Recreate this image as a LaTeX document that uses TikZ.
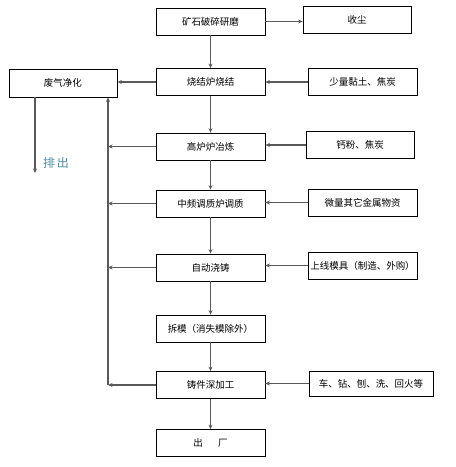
\documentclass[tikz,border=0pt]{standalone}
\usepackage{fontspec}
\newfontfamily\cjk{Noto Sans CJK SC}
\usetikzlibrary{arrows.meta,calc}
\definecolor{linegray}{HTML}{5A5A5A}
\definecolor{tealtext}{HTML}{4A8FA8}
\tikzset{
  box/.style={draw=black, line width=0.8pt, fill=white, minimum width=109pt, minimum height=27pt, inner sep=0pt, font=\cjk\fontsize{9.5}{11}\selectfont},
  conn/.style={draw=linegray, line width=1.1pt, -{Stealth[length=4.5pt,width=4pt]}},
}
\begin{document}
\begin{tikzpicture}[x=1pt,y=-1pt]
\useasboundingbox[fill=white] (0,0) rectangle (456,467);
% main column
\node[box] (b1) at (210.5,21.5) {矿石破碎研磨};
\node[box] (b2) at (210.5,82) {烧结炉烧结};
\node[box] (b3) at (210.5,146.5) {高炉炉冶炼};
\node[box] (b4) at (210.5,203.5) {中频调质炉调质};
\node[box] (b5) at (210.5,267.5) {自动浇铸};
\node[box] (b6) at (210.5,328.5) {拆模（消失模除外）};
\node[box] (b7) at (210.5,385) {铸件深加工};
\node[box] (b8) at (210.5,443) {出\hspace{1.6em}厂};
% right column
\node[box, minimum width=108pt] (r1) at (357,20) {收尘};
\node[box] (r2) at (362.5,82) {少量黏土、焦炭};
\node[box, minimum width=108pt] (r3) at (360,145) {钙粉、焦炭};
\node[box] (r4) at (362.5,202.5) {微量其它金属物资};
\node[box] (r5) at (362.5,265.5) {上线模具（制造、外购）};
\node[box, minimum width=124pt, minimum height=25pt] (r7) at (371,383.5) {车、钻、刨、洗、回火等};
% left
\node[box, minimum width=108pt, minimum height=28pt] (w) at (63,83) {废气净化};
\node[font=\cjk\fontsize{12}{14}\selectfont, text=tealtext] (out) at (56,163) {排\,出};
\coordinate (wout) at (35,173);
% vertical flow
\foreach \a/\b in {b1/b2,b2/b3,b3/b4,b4/b5,b5/b6,b6/b7,b7/b8}
  \draw[conn] (\a) -- (\b);
% right inputs
\draw[conn] (b1.east) -- (r1.west |- b1.east);
\draw[conn] (r2.west) -- (b2.east |- r2.west);
\draw[conn] (r3.west) -- (b3.east |- r3.west);
\draw[conn] (r4.west) -- (b4.east |- r4.west);
\draw[conn] (r5.west) -- (b5.east |- r5.west);
\draw[conn] (r7.west) -- (b7.east |- r7.west);
% exhaust
\coordinate (cb) at (108,385);
\draw[conn] (b2.west) -- (w.east |- b2.west);
\draw[conn] (b3.west) -- (b3.west -| cb);
\draw[conn] (b4.west) -- (b4.west -| cb);
\draw[conn] (b5.west) -- (b5.west -| cb);
\draw[conn] (b7.west) -- (b7.west -| cb);
\draw[conn] (cb) -- (cb |- w.south);
\draw[conn] (w.south -| wout) -- (wout);
\end{tikzpicture}
\end{document}
